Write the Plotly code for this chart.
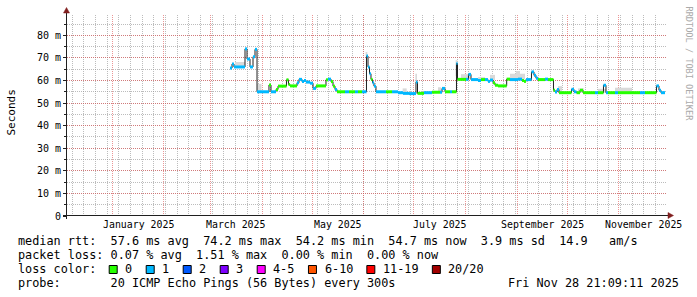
import plotly.graph_objects as go

# ---------------- data ----------------
seg_start = [
    "2025-03-12 15:00", "2025-03-13 20:00", "2025-03-15 00:00", "2025-03-21 15:00",
    "2025-03-22 20:00", "2025-03-24 15:00", "2025-03-26 10:00", "2025-03-27 15:00",
    "2025-03-28 20:00", "2025-04-05 00:00", "2025-04-06 05:00", "2025-04-09 05:00",
    "2025-04-10 10:00", "2025-04-15 12:00", "2025-04-16 17:00", "2025-04-17 15:00",
    "2025-04-21 20:00", "2025-04-23 00:00", "2025-04-24 20:00", "2025-04-26 00:00",
    "2025-04-27 05:00", "2025-04-29 15:00", "2025-05-01 10:00", "2025-05-03 05:00",
    "2025-05-09 05:00", "2025-05-10 10:00", "2025-05-12 05:00", "2025-05-13 10:00",
    "2025-05-14 15:00", "2025-05-15 20:00", "2025-05-20 15:00", "2025-05-23 00:00",
    "2025-05-26 15:00", "2025-05-28 10:00", "2025-05-30 20:00", "2025-06-02 12:00",
    "2025-06-03 10:00", "2025-06-04 08:00", "2025-06-05 05:00", "2025-06-06 03:00",
    "2025-06-07 00:00", "2025-06-08 05:00", "2025-06-14 05:00", "2025-06-17 20:00",
    "2025-06-21 10:00", "2025-06-24 10:00", "2025-06-28 00:00", "2025-07-02 05:00",
    "2025-07-03 03:00", "2025-07-07 00:00", "2025-07-11 20:00", "2025-07-16 15:00",
    "2025-07-17 20:00", "2025-07-19 15:00", "2025-07-22 15:00", "2025-07-23 20:00",
    "2025-07-26 12:00", "2025-07-27 03:00", "2025-08-01 05:00", "2025-08-02 17:00",
    "2025-08-04 05:00", "2025-08-08 10:00", "2025-08-10 05:00", "2025-08-12 15:00",
    "2025-08-14 10:00", "2025-08-15 15:00", "2025-08-17 10:00", "2025-08-18 15:00",
    "2025-08-20 10:00", "2025-08-25 15:00", "2025-08-27 15:00", "2025-09-01 10:00",
    "2025-09-03 20:00", "2025-09-05 00:00", "2025-09-06 05:00", "2025-09-09 12:00",
    "2025-09-11 00:00", "2025-09-12 05:00", "2025-09-13 10:00", "2025-09-17 15:00",
    "2025-09-19 10:00", "2025-09-22 17:00", "2025-09-23 15:00", "2025-09-24 20:00",
    "2025-09-26 00:00", "2025-10-03 12:00", "2025-10-05 00:00", "2025-10-06 12:00",
    "2025-10-08 15:00", "2025-10-10 10:00", "2025-10-17 15:00", "2025-10-19 10:00",
    "2025-10-22 17:00", "2025-10-24 05:00", "2025-10-25 10:00", "2025-10-29 15:00",
    "2025-10-31 10:00", "2025-11-13 15:00", "2025-11-16 15:00", "2025-11-23 12:00",
    "2025-11-25 00:00", "2025-11-26 05:00",
]
data_end = "2025-11-28 15:00"

median_ms = [
    65.5, 67.3, 66.0, 74.0, 69.5, 66.0, 70.5, 73.8,
    55.0, 58.0, 55.0, 56.0, 57.5, 60.3, 58.2, 57.6,
    59.0, 60.5, 59.5, 60.0, 59.3, 58.8, 56.5, 57.6,
    60.3, 60.6, 59.5, 57.5, 56.0, 55.0, 55.0, 55.0,
    55.0, 55.0, 55.0, 70.8, 66.0, 63.0, 60.5, 59.0,
    57.5, 55.0, 55.0, 55.0, 54.6, 54.3, 54.2, 59.3,
    54.3, 54.6, 54.8, 54.8, 56.5, 55.0, 55.0, 55.0,
    67.5, 60.5, 60.5, 62.7, 60.4, 60.0, 60.4, 60.4,
    59.6, 60.2, 59.0, 57.9, 57.6, 60.6, 60.4, 60.6,
    60.0, 59.6, 60.4, 63.8, 62.3, 61.0, 60.4, 60.6,
    60.4, 55.7, 54.9, 56.0, 54.6, 56.1, 55.0, 54.6,
    55.7, 54.6, 54.6, 54.6, 57.9, 54.6, 54.6, 54.6,
    54.6, 54.6, 54.6, 57.6, 55.7, 54.6,
]

loss_cnt = [
    1, 1, 1, 1, 1, 1, 1, 1,
    1, 0, 1, 0, 0, 0, 0, 0,
    1, 1, 1, 1, 1, 1, 1, 0,
    0, 1, 0, 0, 1, 0, 1, 0,
    1, 0, 1, 1, 1, 1, 0, 1,
    1, 1, 0, 1, 1, 1, 1, 1,
    0, 1, 0, 1, 1, 0, 1, 0,
    1, 0, 1, 1, 1, 1, 0, 1,
    1, 1, 0, 0, 0, 0, 1, 1,
    0, 0, 1, 1, 1, 1, 0, 1,
    0, 0, 1, 1, 0, 1, 1, 0,
    0, 0, 1, 0, 1, 1, 0, 1,
    0, 1, 0, 1, 1, 1,
]

smoke_start = ["2025-03-15 14:00", "2025-03-29 00:00", "2025-06-02 00:00", "2025-06-24 05:00",
               "2025-07-01 20:00", "2025-07-15 10:00", "2025-07-26 00:00", "2025-07-29 05:00",
               "2025-08-08 10:00", "2025-08-15 15:00", "2025-08-27 15:00", "2025-08-31 05:00",
               "2025-09-25 10:00", "2025-10-07 10:00", "2025-10-19 10:00", "2025-10-29 15:00"]
smoke_end = ["2025-03-21 15:00", "2025-03-31 12:00", "2025-06-03 00:00", "2025-06-26 15:00",
             "2025-07-02 20:00", "2025-07-17 05:00", "2025-07-27 00:00", "2025-08-03 15:00",
             "2025-08-12 15:00", "2025-08-18 15:00", "2025-09-05 15:00", "2025-09-02 15:00",
             "2025-09-27 20:00", "2025-10-11 00:00", "2025-10-24 05:00", "2025-11-08 20:00"]
smoke_lo = [66.5, 55.5, 70.8, 54.3, 59.3, 55.0, 62.0, 60.5,
            60.4, 60.2, 60.6, 60.6, 54.6, 54.6, 54.6, 54.6]
smoke_hi = [68.2, 58.5, 72.6, 56.5, 63.0, 57.0, 69.0, 62.8,
            61.5, 62.5, 63.0, 64.2, 57.5, 56.5, 56.3, 56.8]

loss_labels = ["0", "1", "2", "3", "4-5", "6-10", "11-19", "20/20"]
loss_colors = ["#26ff00", "#00b8ff", "#0059ff", "#7e00ff", "#ff00ff", "#ff5500", "#ff0000", "#a10000"]

month_starts = ["2024-12-01", "2025-01-01", "2025-02-01", "2025-03-01", "2025-04-01", "2025-05-01",
                "2025-06-01", "2025-07-01", "2025-08-01", "2025-09-01", "2025-10-01", "2025-11-01"]
label_dates = ["2025-01-16 12:00", "2025-03-16 12:00", "2025-05-16 12:00",
               "2025-07-16 12:00", "2025-09-16 00:00", "2025-11-16 00:00"]
label_texts = ["January 2025", "March 2025", "May 2025", "July 2025", "September 2025", "November 2025"]

y_tickvals = [0, 10, 20, 30, 40, 50, 60, 70, 80]
y_ticktext = ["0", "10 m", "20 m", "30 m", "40 m", "50 m", "60 m", "70 m", "80 m"]

rtt_stats = [("57.6", "avg"), ("74.2", "max"), ("54.2", "min"), ("54.7", "now"), ("3.9", "sd")]
rtt_amps = "14.9"
loss_stats = [("0.07", "avg"), ("1.51", "max"), ("0.00", "min"), ("0.00", "now")]
probe_text = "20 ICMP Echo Pings (56 Bytes) every 300s"
stamp_text = "Fri Nov 28 21:09:11 2025"

# ---------------- layout geometry ----------------
W, H = 697, 297
PL, PR, PT, PB = 67, 667, 15, 216
x_range = ["2024-12-04 19:40", "2025-11-29 19:40"]
y_range = [0, 89.0]
MONO = "DejaVu Sans Mono"
AXIS_COL = "rgb(31,31,31)"
ARROW_COL = "rgb(128,31,31)"


def px(x):
    return (x - PL) / (PR - PL)


def py(y):
    return (PB - y) / (PB - PT)


fig = go.Figure()

# smoke
for s, e, lo, hi in zip(smoke_start, smoke_end, smoke_lo, smoke_hi):
    fig.add_trace(go.Scatter(x=[s, e, e, s, s], y=[lo, lo, hi, hi, lo], mode="lines",
                             fill="toself", fillcolor="#d9d9d9", line=dict(width=0),
                             hoverinfo="skip", showlegend=False))

# black median line (steps)
fig.add_trace(go.Scatter(x=seg_start + [data_end], y=median_ms + [median_ms[-1]],
                         mode="lines", line=dict(color="#202020", width=1, shape="hv"),
                         showlegend=False))

# loss coloured horizontal pieces, one trace per loss bucket
seg_end = seg_start[1:] + [data_end]
for b, col in enumerate(loss_colors):
    xs, ys = [], []
    for s, e, m, l in zip(seg_start, seg_end, median_ms, loss_cnt):
        if l == b:
            xs += [s, e, None]
            ys += [m, m, None]
    if xs:
        fig.add_trace(go.Scatter(x=xs, y=ys, mode="lines", connectgaps=False,
                                 line=dict(color=col, width=3), showlegend=False))

annotations = []
shapes = []

# x labels
for d, t in zip(label_dates, label_texts):
    annotations.append(dict(x=d, xref="x", y=py(224.5), yref="paper", text=t, showarrow=False,
                            xanchor="center", yanchor="middle",
                            font=dict(family=MONO, size=9.9, color="black")))

# axis title
annotations.append(dict(x=px(10.5), y=py(113), xref="paper", yref="paper", text="Seconds",
                        textangle=-90, showarrow=False, xanchor="center", yanchor="middle",
                        font=dict(family=MONO, size=11, color="black")))
# watermark
annotations.append(dict(x=px(688), y=py(4), xref="paper", yref="paper",
                        text="RRDTOOL / TOBI OETIKER", textangle=90, showarrow=False,
                        xanchor="center", yanchor="top",
                        font=dict(family=MONO, size=8.6, color="#aaaaaa")))

NB = "\u00a0"
LEG = 11.84
CW = LEG * 0.602


def leg_line(text, ypx, x=15.5, anchor="left"):
    annotations.append(dict(x=px(x), y=py(ypx), xref="paper", yref="paper",
                            text=text.replace(" ", NB), showarrow=False,
                            xanchor=anchor, yanchor="middle",
                            font=dict(family=MONO, size=LEG, color="black")))


line1 = "median rtt:  " + "  ".join(f"{v} ms {k}" for v, k in rtt_stats) + f"  {rtt_amps}   am/s"
line2 = "packet loss: " + "  ".join(f"{v} % {k}" for v, k in loss_stats)
leg_line(line1, 241.3)
leg_line(line2, 255.3)
leg_line("loss color:", 269.3)
leg_line("probe:       " + probe_text, 283.2)
leg_line(stamp_text, 283.2, x=680.5, anchor="right")

bx = 108.7
for k, (lab, col) in enumerate(zip(loss_labels, loss_colors)):
    if k > 0:
        bx += 37 + (len(loss_labels[k - 1]) - 1) * CW
    shapes.append(dict(type="rect", xref="paper", yref="paper",
                       x0=px(bx + 0.5), x1=px(bx + 8.5), y0=py(265.5), y1=py(273.5),
                       fillcolor=col, line=dict(color="black", width=1)))
    leg_line(lab, 269.3, x=bx + 14.6)

# axes lines and arrows
shapes.append(dict(type="line", xref="paper", yref="paper", x0=px(63), x1=px(669),
                   y0=py(215.5), y1=py(215.5), line=dict(color=AXIS_COL, width=1)))
shapes.append(dict(type="line", xref="paper", yref="paper", x0=px(66.5), x1=px(66.5),
                   y0=py(219), y1=py(12), line=dict(color=AXIS_COL, width=1)))
shapes.append(dict(type="path", xref="paper", yref="paper",
                   path=f"M {px(668)} {py(212.5)} L {px(673.5)} {py(215.5)} L {px(668)} {py(218.5)} Z",
                   fillcolor=ARROW_COL, line=dict(color=ARROW_COL, width=0.5)))
shapes.append(dict(type="path", xref="paper", yref="paper",
                   path=f"M {px(63.5)} {py(13)} L {px(66.5)} {py(7.5)} L {px(69.5)} {py(13)} Z",
                   fillcolor=ARROW_COL, line=dict(color=ARROW_COL, width=0.5)))

MAJ = "rgba(222,79,79,0.6)"
MIN = "rgba(143,143,143,0.6)"

fig.update_layout(
    width=W, height=H, autosize=False,
    margin=dict(l=PL, r=W - PR, t=PT, b=H - PB, pad=0),
    paper_bgcolor="white", plot_bgcolor="white",
    showlegend=False,
    xaxis=dict(type="date", range=x_range, tickmode="array", tickvals=month_starts,
               showticklabels=False, showgrid=True, gridcolor=MAJ, griddash="1px,1px",
               gridwidth=1, zeroline=False, showline=False, ticks="",
               minor=dict(tickmode="linear", tick0="2024-12-01", dtick=7 * 86400000,
                          showgrid=True, gridcolor=MIN, griddash="1px,1px", gridwidth=1,
                          ticks="")),
    yaxis=dict(range=y_range, tickmode="array", tickvals=y_tickvals, ticktext=y_ticktext,
               showgrid=True, gridcolor=MAJ, griddash="1px,1px", gridwidth=1,
               zeroline=False, showline=False, ticks="outside", ticklen=3,
               tickcolor=AXIS_COL, tickwidth=1,
               tickfont=dict(family=MONO, size=10, color="black"),
               minor=dict(tickmode="linear", tick0=0, dtick=5, showgrid=True, gridcolor=MIN,
                          griddash="1px,1px", gridwidth=1, ticks="outside", ticklen=2,
                          tickcolor=AXIS_COL)),
    annotations=annotations,
    shapes=shapes,
)

fig.write_html("out.html")
